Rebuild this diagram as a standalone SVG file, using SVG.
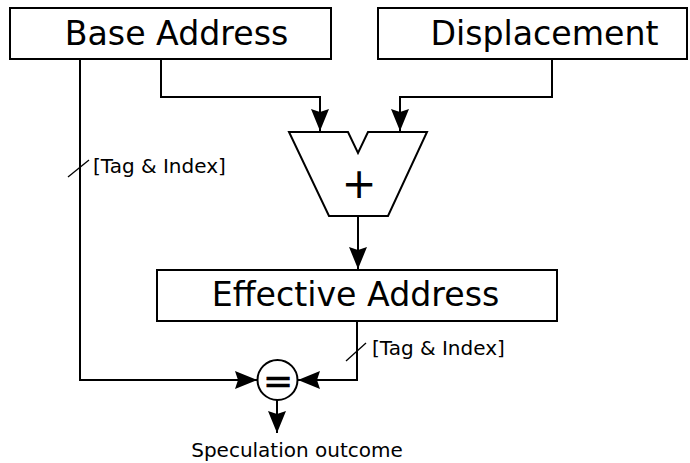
<svg xmlns="http://www.w3.org/2000/svg" width="690" height="463" viewBox="0 0 690 463">
  <style>
    .box { fill: #fff; stroke: #000; stroke-width: 2; }
    .wire { fill: none; stroke: #000; stroke-width: 2; }
    .tick { fill: none; stroke: #000; stroke-width: 1.3; }
    .big { font-family: "DejaVu Sans", sans-serif; font-size: 33.2px; fill: #000; }
    .small { font-family: "DejaVu Sans", sans-serif; font-size: 20px; fill: #000; }
    .sym { font-family: "DejaVu Sans", sans-serif; fill: #000; }
  </style>
  <defs>
    <marker id="arrow" markerUnits="userSpaceOnUse" markerWidth="28" markerHeight="22" viewBox="-25 -11 28 22" refX="0" refY="0" orient="auto">
      <path d="M0,0 L-22,-9 L-19,0 L-22,9 Z" fill="#000"/>
    </marker>
  </defs>

  <g id="connectors">
    <path class="wire" d="M161,59 V97 H320 V131" marker-end="url(#arrow)"/>
    <path class="wire" d="M552,59 V97 H400 V131" marker-end="url(#arrow)"/>
    <path class="wire" d="M358,216 V269" marker-end="url(#arrow)"/>
    <path class="wire" d="M80,59 V380 H257" marker-end="url(#arrow)"/>
    <path class="wire" d="M357,321 V380 H298" marker-end="url(#arrow)"/>
    <path class="wire" d="M277,400 V433" marker-end="url(#arrow)"/>
    <line class="tick" x1="68" y1="177" x2="89" y2="160"/>
    <line class="tick" x1="346" y1="361" x2="366" y2="343"/>
    <text class="small" x="93" y="173">[Tag &amp; Index]</text>
    <text class="small" x="372" y="355">[Tag &amp; Index]</text>
  </g>

  <g id="base-address">
    <rect class="box" x="10" y="8" width="321" height="51"/>
    <text class="big" x="176.5" y="45" text-anchor="middle">Base Address</text>
  </g>

  <g id="displacement">
    <rect class="box" x="378" y="8" width="309" height="51"/>
    <text class="big" x="544.5" y="45" text-anchor="middle">Displacement</text>
  </g>

  <g id="adder">
    <path class="box" d="M289,132 H348 L358,153 L368,132 H427 L388,216 H329 Z"/>
    <text class="sym" x="359" y="198" text-anchor="middle" font-size="42">+</text>
  </g>

  <g id="effective-address">
    <rect class="box" x="157" y="270" width="400" height="51"/>
    <text class="big" x="355.5" y="306" text-anchor="middle">Effective Address</text>
  </g>

  <g id="comparator">
    <circle class="box" cx="277.5" cy="380" r="20"/>
    <text class="sym" x="278" y="393" text-anchor="middle" font-size="36" stroke="#000" stroke-width="0.6">=</text>
  </g>

  <g id="outcome">
    <text class="small" x="297" y="457" text-anchor="middle">Speculation outcome</text>
  </g>
</svg>
